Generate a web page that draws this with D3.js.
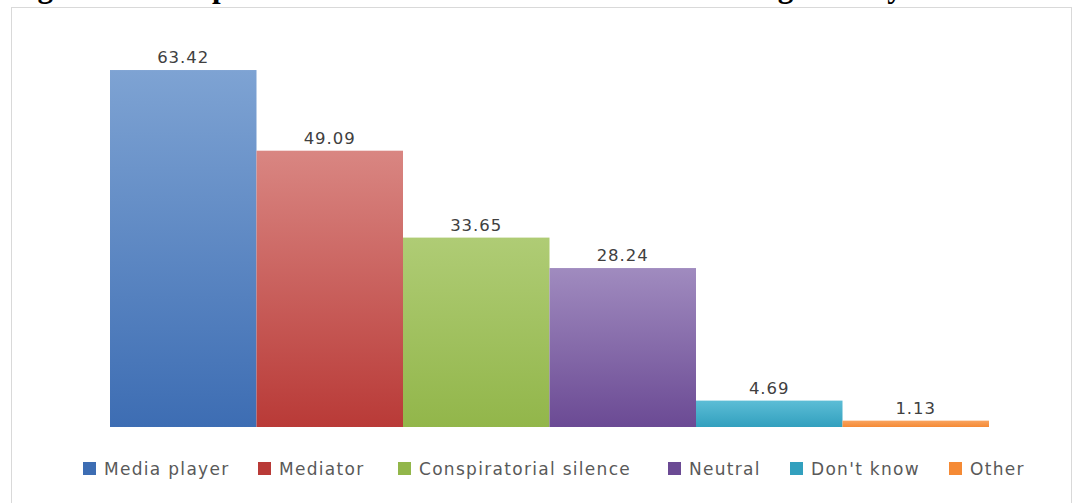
<!DOCTYPE html>
<html lang="en">
<head>
<meta charset="UTF-8">
<title>Perception of the attitude of radio stations</title>
<script src="https://cdn.jsdelivr.net/npm/d3@7"></script>
<style>
  body { margin: 0; background: #fff; }
  .lbl { font-family: "DejaVu Sans", sans-serif; font-size: 16.5px; fill: #404040; letter-spacing: 1px; }
  .leg { font-family: "DejaVu Sans", sans-serif; font-size: 17px; fill: #595959; letter-spacing: 1.3px; }
</style>
</head>
<body>
<script>
// data
var categories = ["Media player", "Mediator", "Conspiratorial silence", "Neutral", "Don't know", "Other"];
var values = [63.42, 49.09, 33.65, 28.24, 4.69, 1.13];
var colorsTop = ["#7ea3d3", "#d98682", "#afcc75", "#a08bbf", "#5cbdd6", "#f9a35f"];
var colorsBottom = ["#3d6db3", "#b93a37", "#92b64a", "#6b4a94", "#32a0be", "#f58a35"];
var legendX = [83, 258, 398, 668, 790, 949];

const w = 1077, h = 503;
const svg = d3.select("body").append("svg")
    .attr("width", w)
    .attr("height", h);

// caption of the figure, cut at the top of the picture
svg.append("text")
    .attr("x", 10)
    .attr("y", -3.5)
    .style("font-family", "'Liberation Serif', serif")
    .style("font-weight", "bold")
    .style("font-size", "31px")
    .attr("fill", "#000")
    .text("Figure 4: Perception of the attitude of radio stations during identity conflicts");

// chart frame
svg.append("rect")
    .attr("x", 11.5).attr("y", 7.5)
    .attr("width", 1060).attr("height", 510)
    .attr("fill", "#fff")
    .attr("stroke", "#d9d9d9");

var x = d3.scaleBand()
    .domain(categories)
    .range([110, 989])
    .padding(0);

var y = d3.scaleLinear()
    .domain([0, 70])
    .range([427, 33]);

var defs = svg.append("defs");
categories.forEach(function(c, i) {
  var g = defs.append("linearGradient")
      .attr("id", "grad" + i)
      .attr("x1", 0).attr("y1", 0).attr("x2", 0).attr("y2", 1);
  g.append("stop").attr("offset", "0%").attr("stop-color", colorsTop[i]);
  g.append("stop").attr("offset", "100%").attr("stop-color", colorsBottom[i]);
});

svg.append("g")
  .selectAll("rect")
  .data(values)
  .enter()
  .append("rect")
    .attr("x", function(d, i) { return x(categories[i]); })
    .attr("y", function(d) { return y(d); })
    .attr("width", x.bandwidth())
    .attr("height", function(d) { return y(0) - y(d); })
    .attr("fill", function(d, i) { return "url(#grad" + i + ")"; });

svg.append("g")
  .selectAll("text")
  .data(values)
  .enter()
  .append("text")
    .attr("class", "lbl")
    .attr("text-anchor", "middle")
    .attr("x", function(d, i) { return x(categories[i]) + x.bandwidth() / 2; })
    .attr("y", function(d) { return y(d) - 7; })
    .text(function(d) { return d.toFixed(2); });

// legend
var leg = svg.append("g")
  .selectAll("g")
  .data(categories)
  .enter()
  .append("g")
    .attr("transform", function(d, i) { return "translate(" + legendX[i] + ",462)"; });

leg.append("rect")
    .attr("width", 13).attr("height", 13)
    .attr("fill", function(d, i) { return colorsBottom[i]; });

leg.append("text")
    .attr("class", "leg")
    .attr("x", 21)
    .attr("y", 13)
    .text(function(d) { return d; });
</script>
</body>
</html>
